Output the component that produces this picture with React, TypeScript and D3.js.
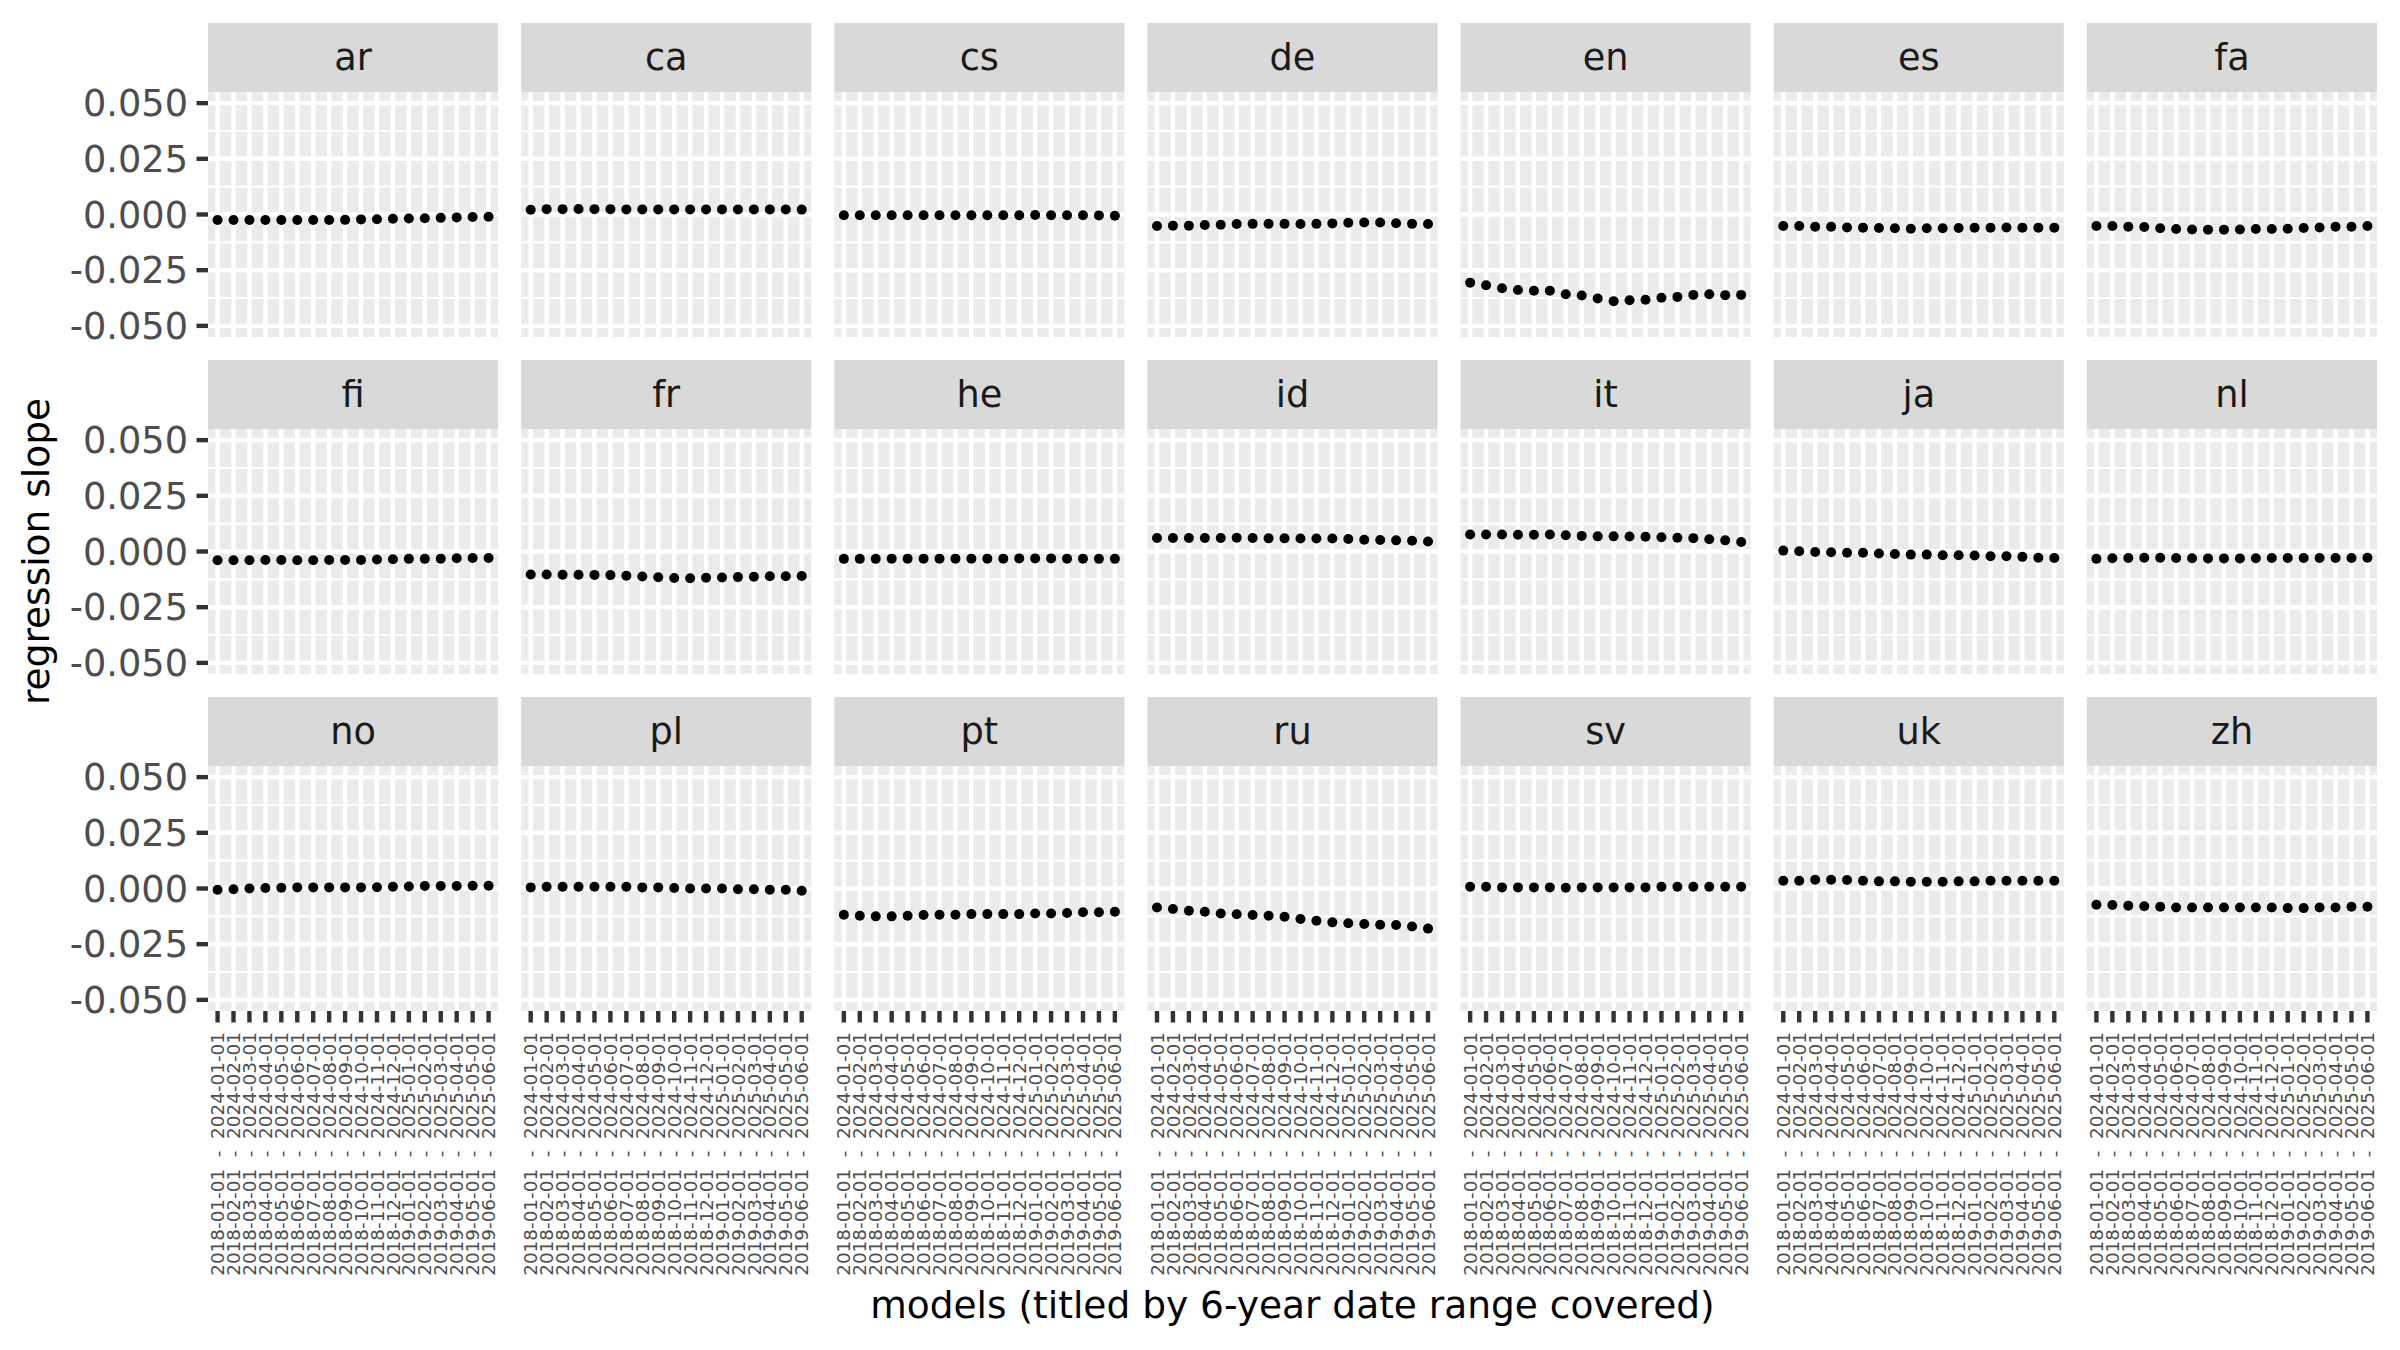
import * as d3 from "d3";

const languages = ["ar", "ca", "cs", "de", "en", "es", "fa", "fi", "fr", "he", "id", "it", "ja", "nl", "no", "pl", "pt", "ru", "sv", "uk", "zh"];

const periods = [
  "2018-01-01  -  2024-01-01",
  "2018-02-01  -  2024-02-01",
  "2018-03-01  -  2024-03-01",
  "2018-04-01  -  2024-04-01",
  "2018-05-01  -  2024-05-01",
  "2018-06-01  -  2024-06-01",
  "2018-07-01  -  2024-07-01",
  "2018-08-01  -  2024-08-01",
  "2018-09-01  -  2024-09-01",
  "2018-10-01  -  2024-10-01",
  "2018-11-01  -  2024-11-01",
  "2018-12-01  -  2024-12-01",
  "2019-01-01  -  2025-01-01",
  "2019-02-01  -  2025-02-01",
  "2019-03-01  -  2025-03-01",
  "2019-04-01  -  2025-04-01",
  "2019-05-01  -  2025-05-01",
  "2019-06-01  -  2025-06-01",
];

const yTicks = [-0.05, -0.025, 0, 0.025, 0.05];
const yTickLabels = ["-0.050", "-0.025", "0.000", "0.025", "0.050"];
const yMinor = [-0.0375, -0.0125, 0.0125, 0.0375];

// slope per model, one array per language
const ar = [-0.0025, -0.0025, -0.0025, -0.0025, -0.0025, -0.0025, -0.0025, -0.0025, -0.0024, -0.0022, -0.0021, -0.0019, -0.0018, -0.0017, -0.0015, -0.0013, -0.0011, -0.001];
const ca = [0.0021, 0.0024, 0.0024, 0.0025, 0.0024, 0.0024, 0.0023, 0.0023, 0.0023, 0.0023, 0.0023, 0.0023, 0.0023, 0.0023, 0.0023, 0.0023, 0.0023, 0.0022];
const cs = [-0.0003, -0.0003, -0.0003, -0.0003, -0.0003, -0.0003, -0.0003, -0.0003, -0.0003, -0.0003, -0.0003, -0.0003, -0.0002, -0.0003, -0.0003, -0.0003, -0.0004, -0.0006];
const de = [-0.0052, -0.005, -0.005, -0.0047, -0.0046, -0.0043, -0.0042, -0.0042, -0.0042, -0.0043, -0.0042, -0.004, -0.0037, -0.0036, -0.0036, -0.0039, -0.0042, -0.0043];
const en = [-0.0306, -0.0318, -0.0331, -0.0339, -0.0342, -0.0342, -0.0358, -0.0364, -0.0377, -0.0389, -0.0385, -0.0383, -0.0374, -0.037, -0.0361, -0.0358, -0.0362, -0.0361];
const es = [-0.0052, -0.0052, -0.0055, -0.0055, -0.0058, -0.0059, -0.0061, -0.0062, -0.0064, -0.0062, -0.0062, -0.0061, -0.0059, -0.0059, -0.0058, -0.0059, -0.0059, -0.0059];
const fa = [-0.0052, -0.0052, -0.0055, -0.0056, -0.0062, -0.0065, -0.0067, -0.0068, -0.0068, -0.0067, -0.0065, -0.0065, -0.0064, -0.0061, -0.0058, -0.0055, -0.0055, -0.0052];
const fi = [-0.0039, -0.0039, -0.0039, -0.0038, -0.0038, -0.0039, -0.0039, -0.0038, -0.0038, -0.0038, -0.0036, -0.0035, -0.0033, -0.0033, -0.0032, -0.003, -0.0029, -0.0029];
const fr = [-0.0103, -0.0103, -0.0104, -0.0104, -0.0105, -0.0106, -0.0109, -0.0112, -0.0116, -0.0119, -0.012, -0.0118, -0.0117, -0.0115, -0.0113, -0.0111, -0.0111, -0.011];
const he = [-0.0033, -0.0033, -0.0033, -0.0032, -0.0032, -0.0032, -0.0032, -0.0032, -0.0032, -0.0032, -0.0032, -0.0031, -0.0031, -0.0031, -0.0032, -0.0032, -0.0033, -0.0033];
const id = [0.0061, 0.0061, 0.0061, 0.0061, 0.0061, 0.0062, 0.0061, 0.0059, 0.0059, 0.0058, 0.0058, 0.0058, 0.0056, 0.0053, 0.0052, 0.005, 0.0048, 0.0045];
const it = [0.0076, 0.0076, 0.0076, 0.0075, 0.0075, 0.0076, 0.0073, 0.007, 0.0068, 0.0068, 0.0067, 0.0066, 0.0064, 0.0062, 0.006, 0.0055, 0.005, 0.0043];
const ja = [0.0004, 0.0001, -0.0002, -0.0003, -0.0006, -0.0006, -0.0009, -0.0011, -0.0014, -0.0014, -0.0017, -0.0017, -0.0018, -0.0021, -0.0021, -0.0024, -0.0028, -0.0029];
const nl = [-0.0033, -0.003, -0.0029, -0.0028, -0.0028, -0.0029, -0.003, -0.0031, -0.0031, -0.0031, -0.003, -0.0029, -0.0029, -0.0029, -0.0029, -0.0029, -0.0029, -0.0028];
const no = [-0.0006, -0.0003, 0.0, 0.0002, 0.0003, 0.0005, 0.0005, 0.0005, 0.0005, 0.0005, 0.0006, 0.0008, 0.0009, 0.0011, 0.0011, 0.0011, 0.0012, 0.0012];
const pl = [0.0005, 0.0008, 0.0008, 0.0008, 0.0008, 0.0008, 0.0008, 0.0005, 0.0005, 0.0002, 0.0, 0.0, 0.0, -0.0003, -0.0003, -0.0006, -0.0006, -0.001];
const pt = [-0.0118, -0.0122, -0.0125, -0.0125, -0.0122, -0.0119, -0.0118, -0.0118, -0.0115, -0.0115, -0.0115, -0.0115, -0.0112, -0.0112, -0.011, -0.0107, -0.0107, -0.0104];
const ru = [-0.0085, -0.0092, -0.01, -0.0104, -0.0112, -0.0116, -0.0119, -0.0122, -0.0127, -0.0137, -0.0145, -0.0152, -0.0156, -0.0159, -0.0163, -0.0164, -0.0171, -0.018];
const sv = [0.0008, 0.0008, 0.0005, 0.0005, 0.0005, 0.0005, 0.0003, 0.0005, 0.0005, 0.0005, 0.0005, 0.0005, 0.0008, 0.0008, 0.0008, 0.0008, 0.0008, 0.0008];
const uk = [0.0035, 0.0035, 0.0039, 0.0039, 0.0038, 0.0035, 0.0032, 0.0032, 0.003, 0.003, 0.003, 0.0032, 0.0032, 0.0035, 0.0035, 0.0035, 0.0035, 0.0035];
const zh = [-0.0073, -0.0074, -0.0077, -0.008, -0.0082, -0.0085, -0.0085, -0.0085, -0.0085, -0.0085, -0.0085, -0.0085, -0.0088, -0.0088, -0.0085, -0.0085, -0.0082, -0.0082];

const slopes = [ar, ca, cs, de, en, es, fa, fi, fr, he, id, it, ja, nl, no, pl, pt, ru, sv, uk, zh];

const W = 2400;
const H = 1350;
const nCols = 7;
const left = 208;
const right = 2377;
const top = 23;
const gap = 23;
const stripH = 69;
const panelH = 245;
const panelW = (right - left - gap * (nCols - 1)) / nCols;
const font = "DejaVu Sans";

const x = d3.scalePoint<string>().domain(periods).range([0, panelW]).padding(0.6);
const y = d3.scaleLinear().domain([-0.055, 0.055]).range([panelH, 0]);

const App = () => {
  const nRows = Math.ceil(languages.length / nCols);
  const lastPanelBottom = top + (nRows - 1) * (stripH + panelH + gap) + stripH + panelH;

  return (
    <svg width={W} height={H} style={{ position: "absolute", left: 0, top: 0, background: "#fff" }} fontFamily={font}>
      {languages.map((lang, i) => {
        const col = i % nCols;
        const row = Math.floor(i / nCols);
        const px = left + col * (panelW + gap);
        const sy = top + row * (stripH + panelH + gap);
        const py = sy + stripH;
        const vals = slopes[i];
        return (
          <g key={lang}>
            <rect x={px} y={sy} width={panelW} height={stripH} fill="#D9D9D9" />
            <text x={px + panelW / 2} y={sy + stripH / 2} dy="0.34em" textAnchor="middle" fontSize={36.7} fill="#1A1A1A">
              {lang}
            </text>
            <g transform={`translate(${px},${py})`}>
              <rect width={panelW} height={panelH} fill="#EBEBEB" />
              {yMinor.map((t) => (
                <line key={"m" + t} x1={0} x2={panelW} y1={y(t)} y2={y(t)} stroke="#fff" strokeWidth={2.2} />
              ))}
              {yTicks.map((t) => (
                <line key={"M" + t} x1={0} x2={panelW} y1={y(t)} y2={y(t)} stroke="#fff" strokeWidth={4.4} />
              ))}
              {periods.map((p) => (
                <line key={p} x1={x(p)} x2={x(p)} y1={0} y2={panelH} stroke="#fff" strokeWidth={4.4} />
              ))}
              {vals.map((v, j) => (
                <circle key={j} cx={x(periods[j])} cy={y(v)} r={5} fill="#000" />
              ))}
              {col === 0 &&
                yTicks.map((t, k) => (
                  <g key={"yt" + t}>
                    <line x1={-11.5} x2={0} y1={y(t)} y2={y(t)} stroke="#333333" strokeWidth={4.4} />
                    <text x={-20} y={y(t)} dy="0.36em" textAnchor="end" fontSize={36.7} fill="#4D4D4D">
                      {yTickLabels[k]}
                    </text>
                  </g>
                ))}
              {row === nRows - 1 &&
                periods.map((p) => (
                  <g key={"xt" + p}>
                    <line x1={x(p)} x2={x(p)} y1={panelH} y2={panelH + 11.5} stroke="#333333" strokeWidth={4.4} />
                    <text
                      transform={`translate(${x(p)},${panelH + 21}) rotate(-90)`}
                      dy="0.36em"
                      textAnchor="end"
                      fontSize={18.4}
                      fill="#4D4D4D"
                      style={{ whiteSpace: "pre" }}
                    >
                      {p}
                    </text>
                  </g>
                ))}
            </g>
          </g>
        );
      })}
      <text x={(left + right) / 2} y={1318} textAnchor="middle" fontSize={37.5} fill="#000">
        models (titled by 6-year date range covered)
      </text>
      <text
        transform={`translate(49,${(top + stripH + lastPanelBottom) / 2}) rotate(-90)`}
        textAnchor="middle"
        fontSize={37.5}
        fill="#000"
      >
        regression slope
      </text>
    </svg>
  );
};

export default App;
